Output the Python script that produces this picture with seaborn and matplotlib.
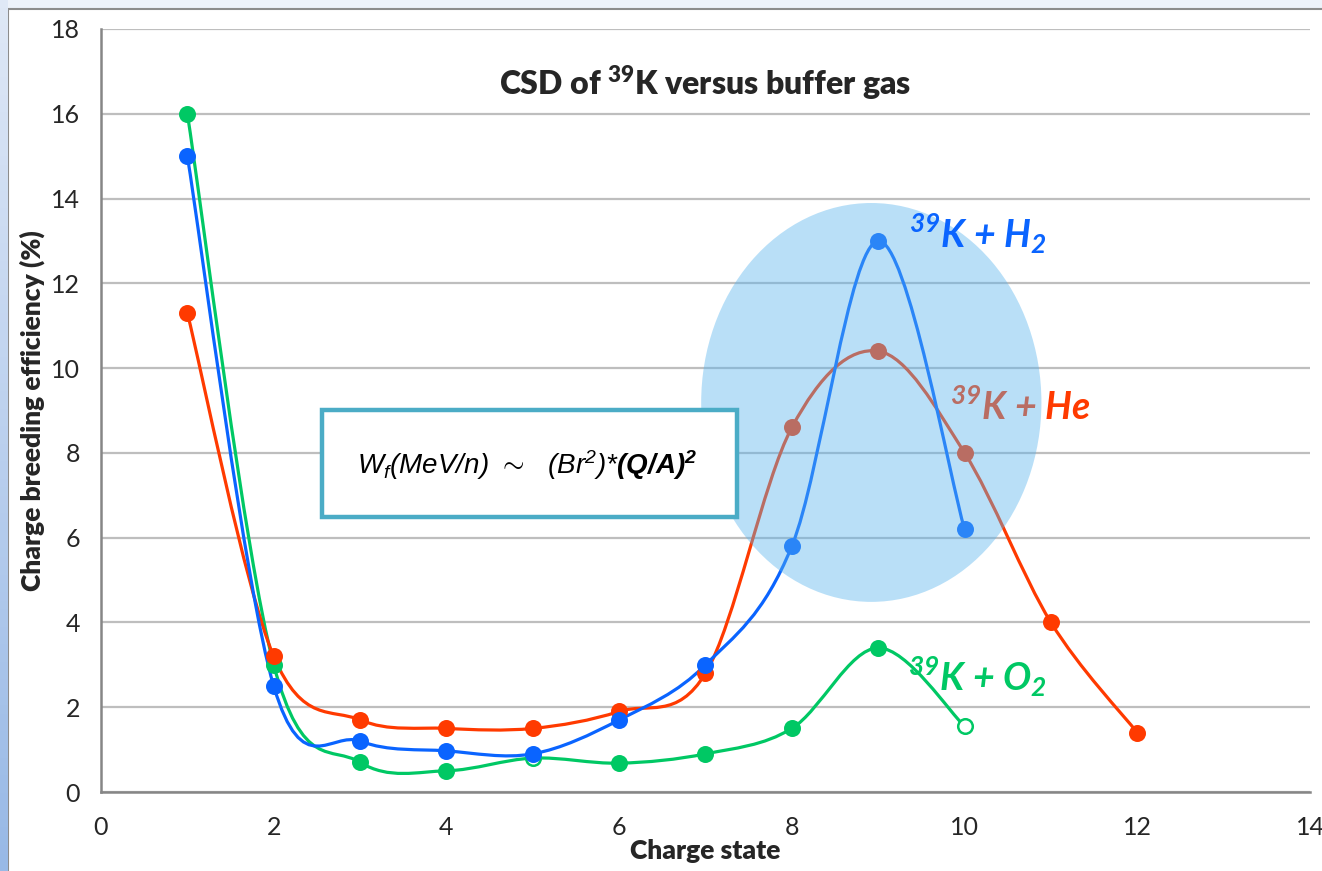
import numpy as np
import pandas as pd
import matplotlib
matplotlib.use("Agg")
import matplotlib.pyplot as plt
import seaborn as sns
from matplotlib.path import Path
from matplotlib.patches import PathPatch, Ellipse, Rectangle

# 数据
he_x = [1, 2, 3, 4, 5, 6, 7, 8, 9, 10, 11, 12]
he_y = [11.3, 3.2, 1.7, 1.5, 1.5, 1.9, 2.8, 8.6, 10.4, 8.0, 4.0, 1.4]
h2_x = [1, 2, 3, 4, 5, 6, 7, 8, 9, 10]
h2_y = [15.0, 2.5, 1.2, 0.97, 0.9, 1.7, 3.0, 5.8, 13.0, 6.2]
o2_x = [1, 2, 3, 4, 5, 6, 7, 8, 9, 10]
o2_y = [16.0, 3.0, 0.7, 0.5, 0.8, 0.68, 0.9, 1.5, 3.4, 1.55]
o2_hollow = [False, False, False, False, True, False, False, False, False, True]

x_ticks = [0, 2, 4, 6, 8, 10, 12, 14]
y_ticks = [0, 2, 4, 6, 8, 10, 12, 14, 16, 18]

title = r"CSD of $^{\mathbf{39}}$K versus buffer gas"
x_label = "Charge state"
y_label = "Charge breeding efficiency (%)"
label_h2 = r"$^{\mathbfit{39}}$K + H$_{\mathbfit{2}}$"
label_he = r"$^{\mathbfit{39}}$K + He"
label_o2 = r"$^{\mathbfit{39}}$K + O$_{\mathbfit{2}}$"
formula = r"$\mathsf{W_{f}(MeV/n)\ \sim\ \ (Br^{2}){*}}\mathtt{(Q/A)^{2}}$"

RED = "#ff3a00"
BLUE = "#0a64ff"
GREEN = "#00c864"

sns.set_style("white")
plt.rcParams['font.family'] = ['Lato', 'DejaVu Sans']
plt.rcParams['mathtext.fontset'] = 'custom'
plt.rcParams['mathtext.rm'] = 'Lato'
plt.rcParams['mathtext.bf'] = 'Lato:heavy'
plt.rcParams['mathtext.bfit'] = 'Lato:bold:italic'
plt.rcParams['mathtext.sf'] = 'Liberation Sans:italic'
plt.rcParams['mathtext.tt'] = 'Liberation Sans:bold:italic'


def smooth_path(xs, ys):
    # Excel 风格的平滑曲线（贝塞尔）
    pts = np.column_stack([xs, ys]).astype(float)
    n = len(pts)
    verts = [pts[0]]
    codes = [Path.MOVETO]
    for i in range(n - 1):
        p0 = pts[i - 1] if i > 0 else pts[i]
        p1 = pts[i]
        p2 = pts[i + 1]
        p3 = pts[i + 2] if i + 2 < n else pts[i + 1]
        c1 = p1 + (p2 - p0) / 6.0
        c2 = p2 - (p3 - p1) / 6.0
        verts += [c1, c2, p2]
        codes += [Path.CURVE4] * 3
    return Path(verts, codes)


fig = plt.figure(figsize=(13.22, 8.71), dpi=100)
fig.patch.set_facecolor("#edf2fa")

# 左侧蓝色渐变条
ax_strip = fig.add_axes([0, 0, 8 / 1322, 1])
ax_strip.imshow(np.linspace(0, 1, 100).reshape(-1, 1), aspect="auto",
                cmap=matplotlib.colors.LinearSegmentedColormap.from_list("s", ["#dfe8f6", "#98b9e6"]))
ax_strip.axis("off")

# 白色图表区
fig.patches.append(Rectangle((8 / 1322, -0.01), 1.0, (871 - 9) / 871 + 0.01, transform=fig.transFigure,
                             facecolor="white", edgecolor="#8c8c8c", lw=1.5, zorder=-5))

ax = fig.add_axes([101 / 1322, 1 - 792 / 871, (1310 - 101) / 1322, (792 - 29) / 871])
ax.set_facecolor("none")

# 平滑曲线
for xs, ys, c in [(o2_x, o2_y, GREEN), (he_x, he_y, RED), (h2_x, h2_y, BLUE)]:
    ax.add_patch(PathPatch(smooth_path(xs, ys), facecolor="none", edgecolor=c, lw=2.3,
                           capstyle="round", zorder=2))

# 数据点
o2_df = pd.DataFrame({"x": o2_x, "y": o2_y, "hollow": o2_hollow})
sns.scatterplot(data=o2_df[~o2_df.hollow], x="x", y="y", color=GREEN, s=150, linewidth=0, ax=ax, zorder=3)
sns.scatterplot(data=o2_df[o2_df.hollow], x="x", y="y", facecolor="white", edgecolor=GREEN, s=110,
                linewidth=1.8, ax=ax, zorder=3)
sns.scatterplot(x=he_x, y=he_y, color=RED, s=150, linewidth=0, ax=ax, zorder=3)
sns.scatterplot(x=h2_x, y=h2_y, color=BLUE, s=150, linewidth=0, ax=ax, zorder=3)

# 标注
ax.text(9.83, 8.77, label_he, color=RED, fontsize=27, fontweight="bold", style="italic",
        ha="left", va="baseline", zorder=4)
ax.text(9.34, 2.4, label_o2, color=GREEN, fontsize=27, fontweight="bold", style="italic",
        ha="left", va="baseline", zorder=4)

# 浅蓝色椭圆
ax.add_patch(Ellipse((8.92, 9.19), 3.94, 9.41, facecolor="#58b4ee", edgecolor="none", alpha=0.42, zorder=5))

ax.text(9.36, 12.85, label_h2, color=BLUE, fontsize=27, fontweight="bold", style="italic",
        ha="left", va="baseline", zorder=6)

# 公式框
ax.add_patch(Rectangle((2.56, 6.49), 4.8, 2.52, facecolor="white", edgecolor="#4bacc6", lw=3.2, zorder=6))
ax.text(4.93, 7.72, formula, fontsize=20, color="black", ha="center", va="center", zorder=7)

# 坐标轴
ax.set_xlim(0, 14)
ax.set_ylim(0, 18)
ax.set_xticks(x_ticks)
ax.set_yticks(y_ticks)
ax.grid(axis="y", color="#bebebe", lw=1.6, zorder=0)
ax.set_axisbelow(True)
for s in ["top", "right"]:
    ax.spines[s].set_visible(False)
for s in ["left", "bottom"]:
    ax.spines[s].set_color("#868686")
    ax.spines[s].set_linewidth(1.8)
ax.tick_params(axis="y", direction="out", length=6, width=1.5, color="#868686", labelsize=18, pad=9)
ax.tick_params(axis="x", direction="out", length=5, width=1.5, color="#868686", labelsize=18, pad=12)
ax.set_xlabel(x_label, fontsize=19, fontweight="heavy", labelpad=0)
ax.set_ylabel(y_label, fontsize=19, fontweight="heavy", labelpad=4)
ax.set_title(title, fontsize=23, fontweight="heavy", y=0.903)

fig.savefig("out.png", dpi=100)
